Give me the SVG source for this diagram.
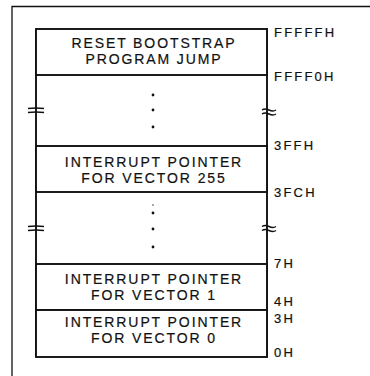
<svg xmlns="http://www.w3.org/2000/svg" width="370" height="376" viewBox="0 0 370 376">
<style>
.bg{fill:#ffffff}
.frame{fill:none;stroke:#111;stroke-width:1.3}
.col{fill:none;stroke:#111;stroke-width:1.9}
.cell{fill:#ffffff;stroke:#111;stroke-width:1.9}
.t{font-family:"Liberation Sans",Arial,sans-serif;font-size:14px;fill:#111;stroke:#111;stroke-width:0.2;text-anchor:middle;letter-spacing:1.9px}
.a{font-family:"Liberation Sans",Arial,sans-serif;font-size:13px;fill:#111;stroke:#111;stroke-width:0.2;letter-spacing:2.2px}
.dot{fill:#111}
.brk{fill:none;stroke:#111;stroke-width:1.5}
</style>
<rect class="bg" x="0" y="0" width="370" height="376"/>
<g id="frame">
<path class="frame" d="M12,376 V6.5 H370"/>
</g>
<g id="column">
<path class="col" d="M36,29 V357 M267,29 V357"/>
</g>
<g id="reset-bootstrap">
<rect class="cell" x="36" y="29" width="231" height="46"/>
<text class="t" x="154" y="48">RESET BOOTSTRAP</text>
<text class="t" x="154" y="64">PROGRAM JUMP</text>
</g>
<g id="gap-upper">
<circle class="dot" cx="153" cy="95" r="1.4"/>
<circle class="dot" cx="153" cy="110" r="1.4"/>
<circle class="dot" cx="153" cy="127" r="1.4"/>
</g>
<g id="vector-255">
<rect class="cell" x="36" y="146" width="231" height="46"/>
<text class="t" x="154" y="167">INTERRUPT POINTER</text>
<text class="t" x="154" y="183">FOR VECTOR 255</text>
</g>
<g id="gap-lower">
<circle class="dot" cx="153" cy="205" r="0.7"/>
<circle class="dot" cx="153" cy="213" r="1.4"/>
<circle class="dot" cx="153" cy="229" r="1.4"/>
<circle class="dot" cx="153" cy="247" r="1.4"/>
</g>
<g id="vector-1">
<rect class="cell" x="36" y="264" width="231" height="46"/>
<text class="t" x="154" y="284">INTERRUPT POINTER</text>
<text class="t" x="154" y="300">FOR VECTOR 1</text>
</g>
<g id="vector-0">
<rect class="cell" x="36" y="310" width="231" height="47"/>
<text class="t" x="154" y="327">INTERRUPT POINTER</text>
<text class="t" x="154" y="343">FOR VECTOR 0</text>
</g>
<g id="breaks">
<path class="brk" d="M28,108.5 Q36,107.5 44,108.5 M28,112.5 Q36,111.5 44,112.5"/>
<path class="brk" d="M262,110 q3,-2 7,0 t7,0 M262,114 q3,-2 7,0 t7,0"/>
<path class="brk" d="M28,226.5 Q36,225.5 44,226.5 M28,230.5 Q36,229.5 44,230.5"/>
<path class="brk" d="M262,226.5 q3,-2 7,0 t7,0 M262,230.5 q3,-2 7,0 t7,0"/>
</g>
<g id="addresses">
<text class="a" x="274" y="37">FFFFFH</text>
<text class="a" x="274" y="81">FFFF0H</text>
<text class="a" x="274" y="150">3FFH</text>
<text class="a" x="274" y="197">3FCH</text>
<text class="a" x="274" y="268">7H</text>
<text class="a" x="274" y="306">4H</text>
<text class="a" x="274" y="323">3H</text>
<text class="a" x="274" y="357">0H</text>
</g>
</svg>
